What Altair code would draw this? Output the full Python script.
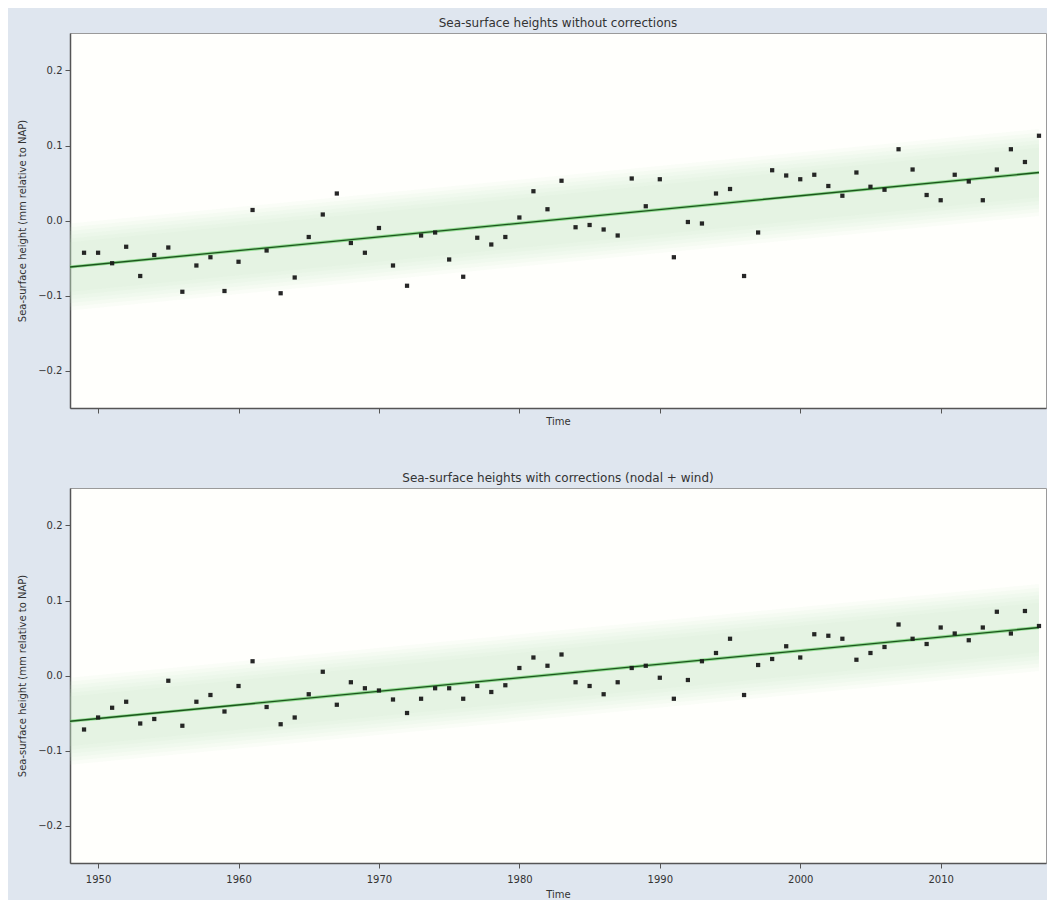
import altair as alt
import pandas as pd

# ---- data ----
years = list(range(1949, 2018))

height_raw = [
    -0.043, -0.043, -0.057, -0.035, -0.074, -0.046, -0.036, -0.095, -0.060, -0.049,
    -0.094, -0.055, 0.014, -0.040, -0.097, -0.076, -0.022, 0.008, 0.036, -0.030,
    -0.043, -0.010, -0.060, -0.087, -0.020, -0.016, -0.052, -0.075, -0.023, -0.032,
    -0.022, 0.004, 0.039, 0.015, 0.053, -0.009, -0.006, -0.012, -0.020, 0.056,
    0.019, 0.055, -0.049, -0.002, -0.004, 0.036, 0.042, -0.074, -0.016, 0.067,
    0.060, 0.055, 0.061, 0.046, 0.033, 0.064, 0.045, 0.041, 0.095, 0.068,
    0.034, 0.027, 0.061, 0.052, 0.027, 0.068, 0.095, 0.078, 0.113,
]

height_corrected = [
    -0.072, -0.056, -0.043, -0.035, -0.064, -0.058, -0.007, -0.067, -0.035, -0.026,
    -0.048, -0.014, 0.019, -0.042, -0.065, -0.056, -0.025, 0.005, -0.039, -0.009,
    -0.017, -0.020, -0.032, -0.050, -0.031, -0.017, -0.017, -0.031, -0.014, -0.022,
    -0.013, 0.010, 0.024, 0.013, 0.028, -0.009, -0.014, -0.025, -0.009, 0.010,
    0.013, -0.003, -0.031, -0.006, 0.019, 0.030, 0.049, -0.026, 0.014, 0.022,
    0.039, 0.024, 0.055, 0.053, 0.049, 0.021, 0.030, 0.038, 0.068, 0.049,
    0.042, 0.064, 0.056, 0.047, 0.064, 0.085, 0.056, 0.086, 0.066,
]

# fitted trend lines: start/end year and heights
trend_years = [1948, 2017]
trend_raw = [-0.062, 0.064]
trend_corrected = [-0.061, 0.064]
# half-widths of the soft confidence band (faded edges)
band_halfwidths = [0.058, 0.053, 0.048, 0.043, 0.038, 0.033]

x_ticks = [1950, 1960, 1970, 1980, 1990, 2000, 2010]
y_ticks = [-0.2, -0.1, 0.0, 0.1, 0.2]

titles = [
    "Sea-surface heights without corrections",
    "Sea-surface heights with corrections (nodal + wind)",
]
y_title = "Sea-surface height (mm relative to NAP)"
x_title = "Time"

FONT = "DejaVu Sans"
TEXT = "#333333"


def panel(values, trend, title, show_labels):
    df = pd.DataFrame({"year": years, "height": values})
    tdf = pd.DataFrame({"year": trend_years, "height": trend})
    base = alt.Chart(df)
    tbase = alt.Chart(tdf)

    x_axis = alt.Axis(
        values=x_ticks, format="d", labels=show_labels, ticks=True, tickSize=5,
        labelFontSize=10, labelColor=TEXT, labelPadding=6,
        titleFontSize=10, titleColor=TEXT, titleFontWeight="normal",
        titlePadding=3 if not show_labels else 5,
        domainColor="#555555", domainWidth=1.5, tickColor="#555555", grid=False,
    )
    y_axis = alt.Axis(
        values=y_ticks, format=".1f", tickSize=5, labelFontSize=10, labelColor=TEXT,
        labelPadding=3, titleFontSize=10, titleColor=TEXT, titleFontWeight="normal",
        titlePadding=10, domainColor="#555555", domainWidth=1.5, tickColor="#555555",
        grid=False,
    )
    x_scale = alt.Scale(domain=[1948, 2017.5], nice=False, zero=False)
    y_scale = alt.Scale(domain=[-0.25, 0.25], nice=False, zero=False)

    enc_x = alt.X("year:Q", scale=x_scale, axis=x_axis, title=x_title)
    enc_y = alt.Y("height:Q", scale=y_scale, axis=y_axis, title=y_title)

    def band(half, opacity):
        return tbase.transform_calculate(
            lo=f"datum.height - {half}", hi=f"datum.height + {half}"
        ).mark_area(color="#c3e8c3", opacity=opacity).encode(
            x=enc_x,
            y=alt.Y("lo:Q", scale=y_scale, axis=y_axis, title=y_title),
            y2="hi:Q",
        )

    bands = [band(h, 0.09) for h in band_halfwidths]
    halo = tbase.mark_line(color="#7ed67e", strokeWidth=3.2, opacity=0.8).encode(x=enc_x, y=enc_y)
    line = tbase.mark_line(color="#1d551d", strokeWidth=1.3).encode(x=enc_x, y=enc_y)
    pts = base.mark_square(size=18, color="#1a1a1a", opacity=0.95).encode(x=enc_x, y=enc_y)

    return alt.layer(*bands, halo, line, pts).properties(
        width=976, height=375,
        view=alt.ViewBackground(fill="#fffffc", stroke="#9a9a9a", strokeWidth=1),
        title=alt.TitleParams(
            text=title, fontSize=12, font=FONT, fontWeight="normal", color=TEXT,
            anchor="middle", offset=3,
        ),
    )


chart = alt.vconcat(
    panel(height_raw, trend_raw, titles[0], False),
    panel(height_corrected, trend_corrected, titles[1], True),
    spacing=44,
).properties(
    background="#dfe6ef",
    padding={"left": 9, "top": 8, "right": 0, "bottom": 0},
).configure_view(
    fill="#fffffc", stroke="#9a9a9a", strokeWidth=1,
).configure(font=FONT)

chart.save("out.html", embed_options={"renderer": "svg", "actions": False})
